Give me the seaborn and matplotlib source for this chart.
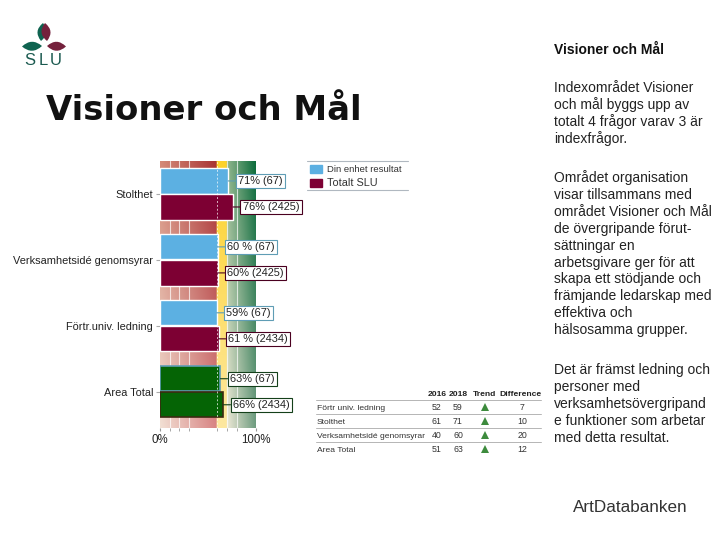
import numpy as np
import pandas as pd
import matplotlib.pyplot as plt
import seaborn as sns
from matplotlib.colors import LinearSegmentedColormap
from matplotlib.patches import PathPatch, Rectangle
from matplotlib.path import Path

areas = ['Stolthet', 'Verksamhetsidé genomsyrar', 'Förtr.univ. ledning', 'Area Total']
unit_values = [71, 60, 59, 63]
slu_values = [76, 60, 61, 66]
unit_labels = ['71% (67)', '60 % (67)', '59% (67)', '63% (67)']
slu_labels = ['76% (2425)', '60% (2425)', '61 % (2434)', '66% (2434)']
unit_name = 'Din enhet resultat'
slu_name = 'Totalt SLU'

table_names = ['Förtr univ. ledning', 'Stolthet', 'Verksamhetsidé genomsyrar', 'Area Total']
table_2016 = [52, 61, 40, 51]
table_2018 = [59, 71, 60, 63]
table_diff = [7, 10, 20, 12]

BLUE = '#5cb0e2'
MAROON = '#7d0033'
GREEN = '#056405'


def leaf(ax, x0, y0, x1, y1, bulge, color):
    # pointed leaf between two tips
    mx, my = (x0 + x1) / 2, (y0 + y1) / 2
    nx, ny = -(y1 - y0), x1 - x0
    n = np.hypot(nx, ny)
    nx, ny = nx / n * bulge, ny / n * bulge
    verts = [(x0, y0), (mx + nx, my + ny), (x1, y1), (mx - nx, my - ny), (x0, y0)]
    codes = [Path.MOVETO, Path.CURVE3, Path.CURVE3, Path.CURVE3, Path.CURVE3]
    ax.add_patch(PathPatch(Path(verts, codes), fc=color, ec='none'))


sns.set_style('white')
plt.rcParams['font.family'] = ['Liberation Sans', 'DejaVu Sans']

fig = plt.figure(figsize=(7.2, 5.4), dpi=100)

# overlay in pixel coordinates for the slide text
page = fig.add_axes([0, 0, 1, 1], zorder=5)
page.set_xlim(0, 720)
page.set_ylim(540, 0)
page.axis('off')
page.patch.set_alpha(0)

ax = fig.add_axes([160 / 720, 1 - 428 / 540, 96 / 720, 267 / 540], zorder=2)

# background colour bands, stronger at the top
top_map = LinearSegmentedColormap.from_list('top', [
    (0.0, '#d48a78'), (0.59, '#a83434'), (0.592, '#fdd22a'), (0.70, '#fdd22a'),
    (0.702, '#8fb58c'), (1.0, '#0c6c3c')])
bottom_map = LinearSegmentedColormap.from_list('bottom', [
    (0.0, '#f2e0d4'), (0.59, '#d88484'), (0.592, '#fde8a0'), (0.70, '#fde8a0'),
    (0.702, '#ece8d6'), (1.0, '#6f9c80')])
xs = np.linspace(0, 1, 400)
fade = np.linspace(0, 1, 100)[:, None, None]
bg = top_map(xs)[:, :3][None, :, :] * (1 - fade) + bottom_map(xs)[:, :3][None, :, :] * fade
ax.imshow(bg, extent=(0, 100, 3.55, -0.5), aspect='auto', zorder=0, interpolation='bilinear')
for x in [10, 20, 30, 70, 80]:
    ax.axvline(x, color='white', lw=0.8, alpha=0.7, zorder=1)

df = pd.DataFrame({
    'Area': areas * 2,
    'Procent': unit_values + slu_values,
    'Serie': [unit_name] * 4 + [slu_name] * 4,
})
sns.barplot(data=df, y='Area', x='Procent', hue='Serie', palette=[BLUE, MAROON],
            width=0.79, gap=0.03, legend=False, saturation=1, zorder=2, ax=ax)
ax.axvline(59, color='white', lw=0.7, ls=(0, (2, 2)), alpha=0.7, zorder=3)

ax.set_xlim(0, 100)
ax.set_ylim(3.55, -0.5)
ax.set_xlabel('')
ax.set_ylabel('')
ax.set_xticks([0, 100], ['0%', '100%'], fontsize=8.3, color='#222222')
ax.set_xticks([10, 20, 30, 59, 70, 80], minor=True)
ax.tick_params(axis='x', which='both', bottom=True, length=2, color='#999999', pad=2)
ax.tick_params(axis='y', left=True, length=3, color='#aaaaaa', labelsize=7.9, labelcolor='#222222', pad=2)
sns.despine(ax=ax, left=True, bottom=True)

# value labels, Area Total bars are green
for s, (bars, texts, col) in enumerate(zip(ax.containers, [unit_labels, slu_labels], ['#5f9db5', '#4a0020'])):
    for i, (bar, txt) in enumerate(zip(bars, texts)):
        edge = col
        if i == 3:
            bar.set_facecolor(GREEN)
            bar.set_edgecolor('#5f9db5' if s == 0 else '#3c2a10')
            bar.set_linewidth(1.2)
            edge = '#14401a'
        ax.annotate(txt, xy=(bar.get_width(), bar.get_y() + bar.get_height() / 2),
                    xytext=(7, 0), textcoords='offset points',
                    va='center', ha='left', fontsize=7.9, color='#222222', annotation_clip=False,
                    bbox=dict(boxstyle='square,pad=0.2', fc='white', ec=edge, lw=0.8),
                    arrowprops=dict(arrowstyle='-', color=edge, lw=0.8, shrinkA=0, shrinkB=0))

# legend
page.plot([307, 408], [161, 161], color='#b0b8c0', lw=0.8)
page.plot([307, 408], [190, 190], color='#b0b8c0', lw=0.8)
page.add_patch(Rectangle((310, 165), 12, 8, color=BLUE))
page.add_patch(Rectangle((310, 179), 12, 8, color=MAROON))
page.text(327, 169, unit_name, fontsize=6.8, va='center', color='#333333')
page.text(327, 183, slu_name, fontsize=7.8, va='center', color='#333333')

# small trend table
col_x = [437, 458, 485, 520]
for x, head in zip(col_x, ['2016', '2018', 'Trend', 'Difference']):
    page.text(x, 394, head, fontsize=6.1, fontweight='bold', ha='center', va='center', color='#222222')
for i, row_y in enumerate([408, 422, 436, 450]):
    page.plot([316, 541], [row_y - 8, row_y - 8], color='#b5b5b5', lw=0.7)
    page.text(317, row_y, table_names[i], fontsize=6.1, va='center', color='#333333')
    page.text(col_x[0], row_y, str(table_2016[i]), fontsize=6.3, ha='center', va='center', color='#333333')
    page.text(col_x[1], row_y, str(table_2018[i]), fontsize=6.3, ha='center', va='center', color='#333333')
    page.plot([col_x[2]], [row_y - 1], marker='^', ms=6, color='#3d8b3d', mew=0)
    page.text(col_x[3] + 2, row_y, str(table_diff[i]), fontsize=6.3, ha='center', va='center', color='#333333')

# slide text
page.text(46, 110, 'Visioner och Mål', fontsize=24.4, fontweight='bold', family='DejaVu Sans',
          va='center', color='#111111')
page.text(554, 50, 'Visioner och Mål', fontsize=10, fontweight='bold', va='center', color='#111111')
paragraphs = [
    (88, ['Indexområdet Visioner', 'och mål byggs upp av', 'totalt 4 frågor varav 3 är', 'indexfrågor.']),
    (178, ['Området organisation', 'visar tillsammans med', 'området Visioner och Mål', 'de övergripande förut-',
           'sättningar en', 'arbetsgivare ger för att', 'skapa ett stödjande och', 'främjande ledarskap med',
           'effektiva och', 'hälsosamma grupper.']),
    (370, ['Det är främst ledning och', 'personer med', 'verksamhetsövergripand', 'e funktioner som arbetar',
           'med detta resultat.']),
]
for top, lines in paragraphs:
    for k, line in enumerate(lines):
        page.text(554, top + k * 16.9, line, fontsize=10, va='center', color='#222222')

page.text(573, 507, 'ArtDatabanken', fontsize=12.3, va='center', color='#333333')

# SLU logo
leaf(page, 43, 23, 41, 41, 9, '#0f6350')
leaf(page, 45, 23, 47, 41, -9, '#74213c')
leaf(page, 22, 46.5, 42, 46, 9, '#0f6350')
leaf(page, 47, 46, 66, 46.5, 9, '#74213c')
for x, letter in zip([30, 43.5, 56], 'SLU'):
    page.text(x, 60.5, letter, fontsize=12, ha='center', va='center', color='#1b5a50')

plt.savefig('out.png', dpi=100)
